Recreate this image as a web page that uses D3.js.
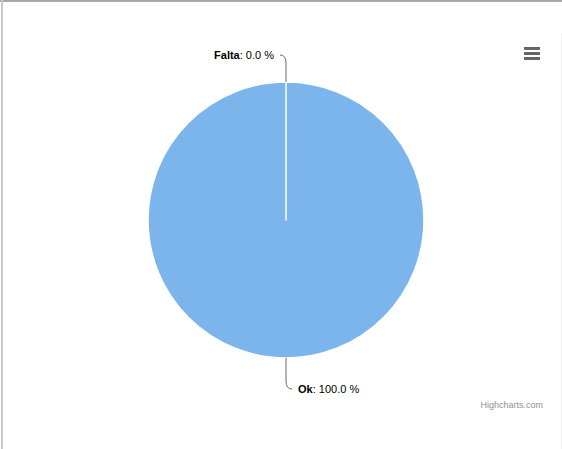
<!DOCTYPE html>
<html>
<head>
<meta charset="utf-8">
<script src="https://cdn.jsdelivr.net/npm/d3@7"></script>
<style>
  body { margin: 0; background: #fff; }
  svg { display: block; }
</style>
</head>
<body>
<div id="container"></div>
<script>
// chart values
let names = ["Falta", "Ok"]
let values = [0, 100]

let width = 562
let height = 449
let color = "#7cb5ec"

let svg = d3.select("#container")
    .append("svg")
    .attr("width", width)
    .attr("height", height)

// frame lines seen on the screenshot
svg.append("rect").attr("x", 0).attr("y", 0).attr("width", width).attr("height", 2).attr("fill", "#a8a8a8")
svg.append("rect").attr("x", 1).attr("y", 0).attr("width", 2).attr("height", height).attr("fill", "#c8c8c8")
svg.append("rect").attr("x", 561).attr("y", 33).attr("width", 1).attr("height", height - 33).attr("fill", "#f0f0f0")

let cx = 286, cy = 220, r = 138

let data = names.map((n, i) => ({name: n, value: values[i]}))
let total = d3.sum(values)

let pie = d3.pie().sort(null).value(d => d.value)
let arcs = pie(data)
let arc = d3.arc().innerRadius(0).outerRadius(r)

let g = svg.append("g").attr("transform", `translate(${cx},${cy})`)

// draw big slice first so the zero slice border sits on top
g.selectAll("path")
    .data(arcs.slice().sort((a, b) => b.value - a.value))
    .join("path")
    .attr("d", arc)
    .attr("fill", color)
    .attr("stroke", "#fff")
    .attr("stroke-width", 1.5)
    .attr("stroke-linejoin", "round")

// data labels with connectors
let fmt = d3.format(".1f")
let labels = svg.append("g")
let eps = 1e-6

arcs.forEach(d => {
    let mid = (d.startAngle + d.endAngle) / 2
    let right = mid > eps && mid <= Math.PI + eps
    let ex = cx + r * Math.sin(mid)
    let ey = cy - r * Math.cos(mid)
    let up = Math.cos(mid) > 0
    let ly = up ? ey - 27 : ey + 31
    let dir = right ? 1 : -1
    let bend = up ? 8 : -8

    labels.append("path")
        .attr("d", `M${ex},${ey}L${ex},${ly + bend}Q${ex},${ly} ${ex + dir * 6},${ly}`)
        .attr("fill", "none")
        .attr("stroke", "#666")
        .attr("stroke-width", 1)

    let t = labels.append("text")
        .attr("x", ex + dir * 12)
        .attr("y", ly + 4)
        .attr("text-anchor", right ? "start" : "end")
        .attr("font-family", "'Liberation Sans', Arial, sans-serif")
        .attr("font-size", 11)
        .attr("fill", "#000")
    t.append("tspan").attr("font-weight", "bold").text(d.data.name)
    t.append("tspan").text(": " + fmt(d.value / total * 100) + " %")
})

// context menu icon
let menu = svg.append("g").attr("transform", "translate(524,47)")
menu.selectAll("line")
    .data([0, 5, 10])
    .join("line")
    .attr("x1", 0).attr("x2", 16)
    .attr("y1", d => d + 1.5).attr("y2", d => d + 1.5)
    .attr("stroke", "#666")
    .attr("stroke-width", 3)

// credits
svg.append("text")
    .attr("x", 543)
    .attr("y", 408)
    .attr("text-anchor", "end")
    .attr("font-family", "'Liberation Sans', Arial, sans-serif")
    .attr("font-size", 9)
    .attr("fill", "#909090")
    .text("Highcharts.com")
</script>
</body>
</html>
